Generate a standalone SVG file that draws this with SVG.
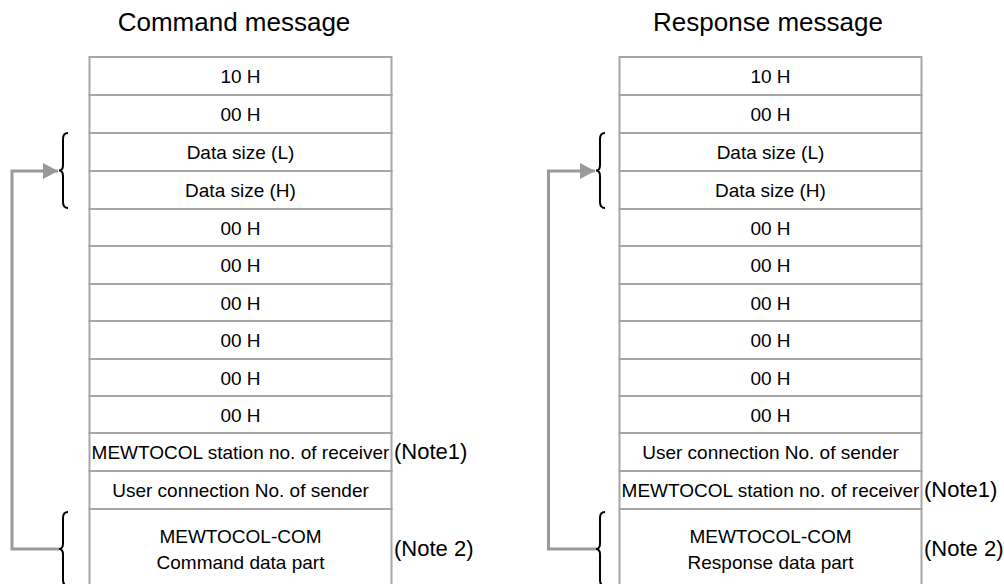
<svg xmlns="http://www.w3.org/2000/svg" width="1004" height="584" viewBox="0 0 1004 584">
<style>
.cell{fill:#fff;stroke:#a6a6a6;stroke-width:2}
.t{font-family:"Liberation Sans",Arial,sans-serif;font-size:19px;fill:#000;text-anchor:middle}
.note{font-family:"Liberation Sans",Arial,sans-serif;font-size:22px;fill:#000}
.title{font-family:"Liberation Sans",Arial,sans-serif;font-size:26px;fill:#000;text-anchor:middle}
.brace{fill:none;stroke:#000;stroke-width:2}
.conn{fill:none;stroke:#999;stroke-width:3}
</style>
<defs>
<marker id="arr" markerWidth="16" markerHeight="16" refX="15" refY="8" orient="auto" markerUnits="userSpaceOnUse">
<path d="M0,0 L15,8 L0,16 Z" fill="#999"/>
</marker>
</defs>
<rect width="1004" height="584" fill="#fff"/>

<text class="title" x="234" y="31">Command message</text>
<text class="title" x="768" y="31">Response message</text>

<g id="command-table">
<rect class="cell" x="89.5" y="57" width="302" height="38"/>
<rect class="cell" x="89.5" y="95" width="302" height="38"/>
<rect class="cell" x="89.5" y="133" width="302" height="38"/>
<rect class="cell" x="89.5" y="171" width="302" height="38"/>
<rect class="cell" x="89.5" y="209" width="302" height="37"/>
<rect class="cell" x="89.5" y="246" width="302" height="38"/>
<rect class="cell" x="89.5" y="284" width="302" height="37"/>
<rect class="cell" x="89.5" y="321" width="302" height="38"/>
<rect class="cell" x="89.5" y="359" width="302" height="37"/>
<rect class="cell" x="89.5" y="396" width="302" height="37"/>
<rect class="cell" x="89.5" y="433" width="302" height="38"/>
<rect class="cell" x="89.5" y="471" width="302" height="38"/>
<rect class="cell" x="89.5" y="509" width="302" height="90"/>
<text class="t" x="240.5" y="83">10 H</text>
<text class="t" x="240.5" y="121">00 H</text>
<text class="t" x="240.5" y="159">Data size (L)</text>
<text class="t" x="240.5" y="197">Data size (H)</text>
<text class="t" x="240.5" y="234.5">00 H</text>
<text class="t" x="240.5" y="272">00 H</text>
<text class="t" x="240.5" y="309.5">00 H</text>
<text class="t" x="240.5" y="347">00 H</text>
<text class="t" x="240.5" y="384.5">00 H</text>
<text class="t" x="240.5" y="421.5">00 H</text>
<text class="t" x="240.5" y="459">MEWTOCOL station no. of receiver</text>
<text class="t" x="240.5" y="497">User connection No. of sender</text>
<text class="t" x="240.5" y="543">MEWTOCOL-COM</text>
<text class="t" x="240.5" y="569">Command data part</text>
<text class="note" x="394" y="459">(Note1)</text>
<text class="note" x="394" y="556">(Note 2)</text>
</g>

<g id="response-table">
<rect class="cell" x="619.5" y="57" width="302" height="38"/>
<rect class="cell" x="619.5" y="95" width="302" height="38"/>
<rect class="cell" x="619.5" y="133" width="302" height="38"/>
<rect class="cell" x="619.5" y="171" width="302" height="38"/>
<rect class="cell" x="619.5" y="209" width="302" height="37"/>
<rect class="cell" x="619.5" y="246" width="302" height="38"/>
<rect class="cell" x="619.5" y="284" width="302" height="37"/>
<rect class="cell" x="619.5" y="321" width="302" height="38"/>
<rect class="cell" x="619.5" y="359" width="302" height="37"/>
<rect class="cell" x="619.5" y="396" width="302" height="37"/>
<rect class="cell" x="619.5" y="433" width="302" height="38"/>
<rect class="cell" x="619.5" y="471" width="302" height="38"/>
<rect class="cell" x="619.5" y="509" width="302" height="90"/>
<text class="t" x="770.5" y="83">10 H</text>
<text class="t" x="770.5" y="121">00 H</text>
<text class="t" x="770.5" y="159">Data size (L)</text>
<text class="t" x="770.5" y="197">Data size (H)</text>
<text class="t" x="770.5" y="234.5">00 H</text>
<text class="t" x="770.5" y="272">00 H</text>
<text class="t" x="770.5" y="309.5">00 H</text>
<text class="t" x="770.5" y="347">00 H</text>
<text class="t" x="770.5" y="384.5">00 H</text>
<text class="t" x="770.5" y="421.5">00 H</text>
<text class="t" x="770.5" y="459">User connection No. of sender</text>
<text class="t" x="770.5" y="497">MEWTOCOL station no. of receiver</text>
<text class="t" x="770.5" y="543">MEWTOCOL-COM</text>
<text class="t" x="770.5" y="569">Response data part</text>
<text class="note" x="924" y="497">(Note1)</text>
<text class="note" x="924" y="556">(Note 2)</text>
</g>

<g id="braces">
<path class="brace" d="M68,133 Q63,133 63,139 L63,165 Q63,170.5 59,170.5 Q63,170.5 63,176 L63,202 Q63,208 68,208"/>
<path class="brace" d="M68,512 Q63,512 63,518 L63,543.5 Q63,549 59,549 Q63,549 63,554.5 L63,580 Q63,586 68,586"/>
<path class="brace" d="M605,133 Q600,133 600,139 L600,165 Q600,170.5 596,170.5 Q600,170.5 600,176 L600,202 Q600,208 605,208"/>
<path class="brace" d="M605,512 Q600,512 600,518 L600,543.5 Q600,549 596,549 Q600,549 600,554.5 L600,580 Q600,586 605,586"/>
</g>

<g id="connectors">
<path class="conn" d="M59,549 H12 V171 H58" marker-end="url(#arr)"/>
<path class="conn" d="M596,549 H548.5 V171 H595" marker-end="url(#arr)"/>
</g>
</svg>
